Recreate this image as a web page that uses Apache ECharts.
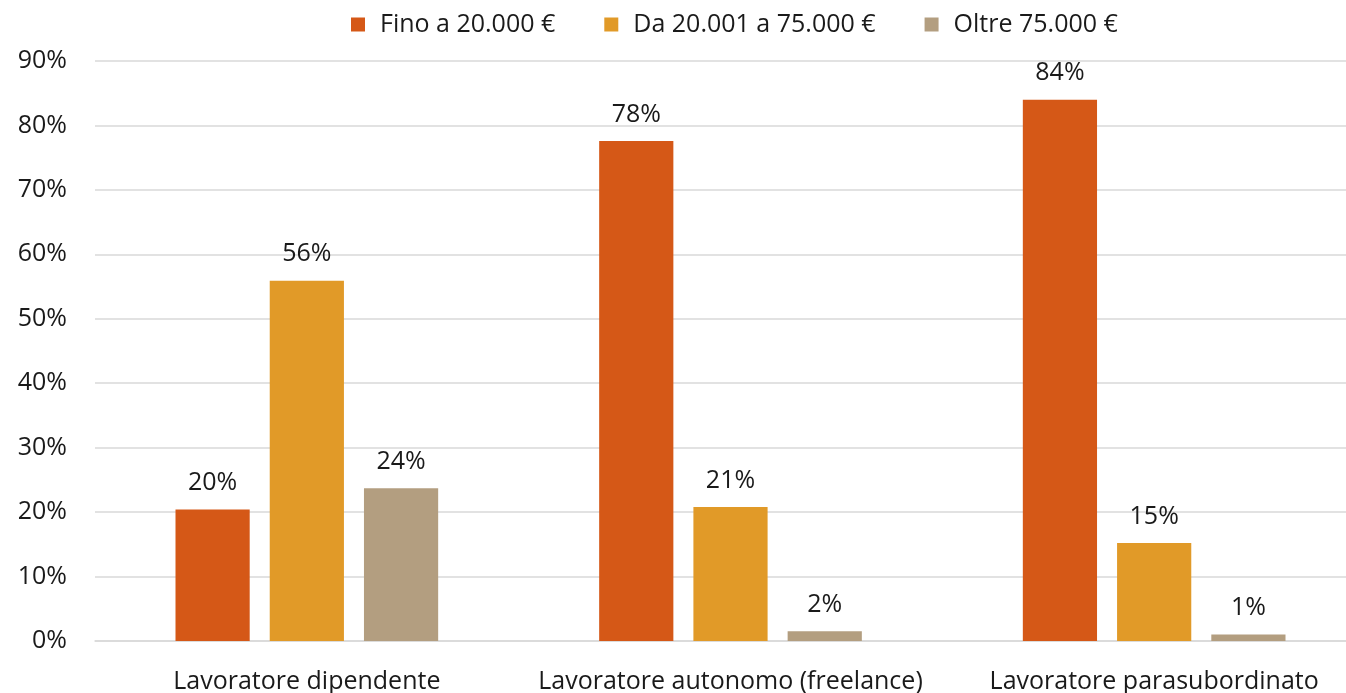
<!DOCTYPE html>
<html>
<head>
<meta charset="utf-8">
<script src="https://cdn.jsdelivr.net/npm/echarts@6/dist/echarts.min.js"></script>
<style>
html,body{margin:0;padding:0;background:#fff;}
#chart{width:1346px;height:693px;}
</style>
</head>
<body>
<div id="chart"></div>
<script>
const categories = ['Lavoratore dipendente', 'Lavoratore autonomo (freelance)', 'Lavoratore parasubordinato'];
const seriesNames = ['Fino a 20.000 €', 'Da 20.001 a 75.000 €', 'Oltre 75.000 €'];
const fino20 = [20.4, 77.6, 84.0];
const da20a75 = [55.9, 20.8, 15.2];
const oltre75 = [23.7, 1.5, 1.0];
const colors = ['#D55817', '#E19A28', '#B39E80'];
const yTicks = [0, 10, 20, 30, 40, 50, 60, 70, 80, 90];

const FONT = '"Open Sans", "Noto Sans", sans-serif';
const chart = echarts.init(document.getElementById('chart'));
const mk = (name, data, color) => ({
  name, type: 'bar', data,
  itemStyle: { color },
  barGap: '27%',
  barCategoryGap: '38%',
  label: {
    show: true, position: 'top', distance: 14,
    color: '#1a1a1a', fontSize: 25, fontFamily: FONT,
    formatter: p => Math.round(p.value) + '%'
  }
});
chart.setOption({
  animation: false,
  color: colors,
  textStyle: { fontFamily: FONT },
  legend: {
    top: 7, left: 346,
    itemWidth: 14, itemHeight: 14, itemGap: 49,
    icon: 'rect',
    textStyle: { fontSize: 25, color: '#1a1a1a', fontFamily: FONT, padding: [0, 0, 0, 10] },
    data: seriesNames
  },
  grid: { left: 95, width: 1271, top: 61, height: 580, containLabel: false, outerBoundsMode: 'none' },
  xAxis: {
    type: 'category', data: categories,
    axisTick: { show: false },
    axisLine: { lineStyle: { color: '#d9d9d9', width: 1.5 } },
    axisLabel: { fontSize: 25, color: '#1a1a1a', margin: 28, fontFamily: FONT, interval: 0 }
  },
  yAxis: {
    type: 'value', min: yTicks[0], max: yTicks[yTicks.length - 1], interval: 10,
    axisLine: { show: false }, axisTick: { show: false },
    splitLine: { lineStyle: { color: '#d9d9d9', width: 1.5 } },
    axisLabel: { fontSize: 25, color: '#1a1a1a', margin: 28, fontFamily: FONT, formatter: v => v + '%' }
  },
  series: [
    mk(seriesNames[0], fino20, colors[0]),
    mk(seriesNames[1], da20a75, colors[1]),
    mk(seriesNames[2], oltre75, colors[2])
  ]
});
</script>
</body>
</html>
